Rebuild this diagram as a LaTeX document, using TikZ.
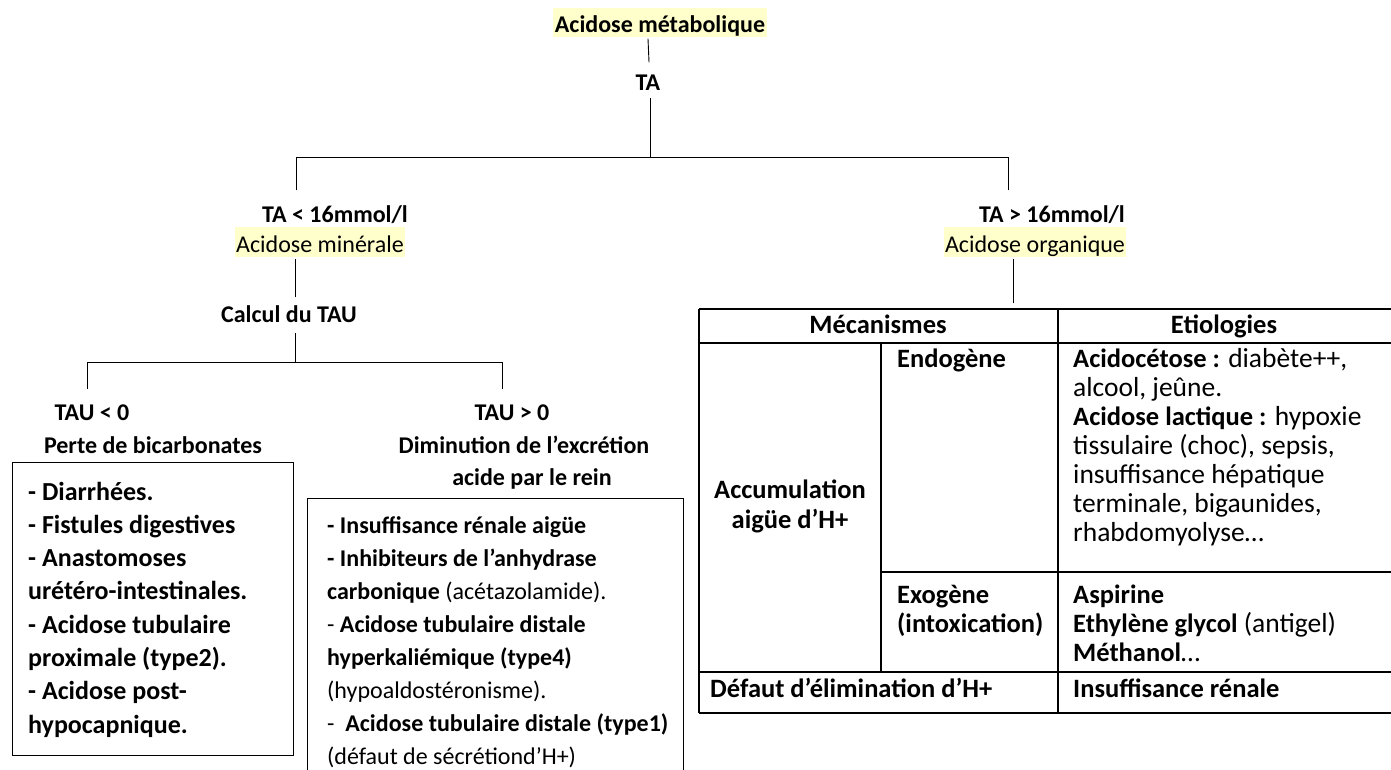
\documentclass[tikz,border=0pt]{standalone}
\usepackage{fontspec}
\setmainfont{Carlito}
\definecolor{hl}{HTML}{FFFFCC}
\tikzset{
  tree/.style={line width=0.9pt, line cap=rect},
  tline/.style={line width=1.5pt},
  hd/.style={font=\fontsize{24}{28}\selectfont\bfseries, inner sep=0pt, anchor=base},
  hlbox/.style={font=\fontsize{24}{28}\selectfont, fill=hl, inner xsep=1.5pt, inner ysep=0pt,
                text height=25pt, text depth=5pt, anchor=base},
  framebox/.style={draw, line width=0.9pt, inner sep=0pt, anchor=north west},
  lline/.style={font=\fontsize{26}{30}\selectfont\bfseries, inner sep=0pt, anchor=base west},
  mline/.style={font=\fontsize{24}{28}\selectfont, inner sep=0pt, anchor=base west},
  tcell/.style={font=\fontsize{27.5}{31}\selectfont, inner sep=0pt, anchor=base west},
  tbold/.style={font=\fontsize{26.5}{31}\selectfont\bfseries, inner sep=0pt, anchor=base west},
  thead/.style={font=\fontsize{26.5}{31}\selectfont\bfseries, inner sep=0pt, anchor=base},
}
\newcommand{\tb}[1]{{\fontsize{26.5}{31}\selectfont\bfseries #1}}
\begin{document}
\begin{tikzpicture}[x=1pt,y=-1pt]
\useasboundingbox (0,0) rectangle (1391,769);
\clip (0,0) rectangle (1391,769);

% ---- decision tree headings
\node[hlbox, font=\fontsize{24}{28}\selectfont\bfseries, text height=24pt] (met) at (660,32) {Acidose métabolique};
\node[hd] (ta) at (648,90) {TA};
\node[hd] (talow) at (335,222) {TA < 16mmol/l};
\node[hlbox] (mine) at (320,252) {Acidose minérale};
\node[hd] (calc) at (289,322) {Calcul du TAU};
\node[hd] (tahigh) at (1052,222) {TA > 16mmol/l};
\node[hlbox] (orga) at (1035,252) {Acidose organique};
\node[hd] (tauneg) at (92,420) {TAU < 0};
\node[hd] (perte) at (153,453) {Perte de bicarbonates};
\node[hd] (taupos) at (512,420) {TAU > 0};
\node[hd] (dimin) at (524,453) {Diminution de l’excrétion};
\node[hd] (acide) at (532,485) {acide par le rein};

% ---- connector ends and junctions
\coordinate (m1) at (648,39);  \coordinate (m2) at (649,62);
\coordinate (t1) at (650,98);  \coordinate (t2) at (650,157);
\coordinate (bl) at (296,157); \coordinate (bl2) at (296,190);
\coordinate (br) at (1008,157);\coordinate (br2) at (1008,190);
\coordinate (n1) at (295,259); \coordinate (n2) at (295,297);
\coordinate (c1) at (295,333); \coordinate (c2) at (295,362);
\coordinate (ul) at (87,362);  \coordinate (ul2) at (87,389);
\coordinate (ur) at (502,362); \coordinate (ur2) at (502,389);
\coordinate (o1) at (1013,259);\coordinate (o2) at (1013,303);

\draw[tree] (m1) -- (m2);
\draw[tree] (t1) -- (t2);
\draw[tree] (bl2) -- (bl) -- (br) -- (br2);
\draw[tree] (n1) -- (n2);
\draw[tree] (c1) -- (c2);
\draw[tree] (ul2) -- (ul) -- (ur) -- (ur2);
\draw[tree] (o1) -- (o2);

% ---- cause boxes
\node[framebox, minimum width=281pt, minimum height=293pt] (lbox) at (12,462) {};
\node[framebox, minimum width=376pt, minimum height=330pt] (mbox) at (307,498) {};

\foreach \t [count=\i] in {
  {- Diarrhées.},
  {- Fistules digestives},
  {- Anastomoses},
  {urétéro-intestinales.},
  {- Acidose tubulaire},
  {proximale (type2).},
  {- Acidose post-},
  {hypocapnique.}}
  \node[lline] (l\i) at (28,{500+33.3*(\i-1)}) {\t};

\foreach \t [count=\i] in {
  {\textbf{- Insuffisance rénale aigüe}},
  {\textbf{- Inhibiteurs de l’anhydrase}},
  {\textbf{carbonique} (acétazolamide).},
  {- \textbf{Acidose tubulaire distale}},
  {\textbf{hyperkaliémique (type4)}},
  {(hypoaldostéronisme).},
  {-\ \ \textbf{Acidose tubulaire distale (type1)}},
  {(défaut de sécrétiond’H+)}}
  \node[mline] (r\i) at (327,{533+33*(\i-1)}) {\t};

% ---- table of organic acidoses
\draw[tline] (699,309) -- (1391,309);
\draw[tline] (699,343) -- (1391,343);
\draw[tline] (881,572) -- (1391,572);
\draw[tline] (699,672) -- (1391,672);
\draw[tline] (699,713) -- (1391,713);
\draw[tline] (699,309) -- (699,713);
\draw[tline] (1058,309) -- (1058,713);
\draw[tline] (881,343) -- (881,672);

\node[thead] (hmec) at (878,333) {Mécanismes};
\node[thead] (heti) at (1224,333) {Etiologies};
\node[thead] (acc1) at (790,498) {Accumulation};
\node[thead] (acc2) at (790,528) {aigüe d’H+};
\node[tbold] (endo) at (897,367) {Endogène};
\node[tbold] (exo1) at (897,603) {Exogène};
\node[tbold] (exo2) at (897,632) {(intoxication)};

\foreach \t [count=\i] in {
  {\tb{Acidocétose :} diabète++,},
  {alcool, jeûne.},
  {\tb{Acidose lactique :} hypoxie},
  {tissulaire (choc), sepsis,},
  {insuffisance hépatique},
  {terminale, bigaunides,},
  {rhabdomyolyse…}}
  \node[tcell] (e\i) at (1073,{367+29*(\i-1)}) {\t};

\node[tcell] (x1) at (1073,603) {\tb{Aspirine}};
\node[tcell] (x2) at (1073,632) {\tb{Ethylène glycol} (antigel)};
\node[tcell] (x3) at (1073,661) {\tb{Méthanol}…};
\node[tbold] (def) at (710,697) {Défaut d’élimination d’H+};
\node[tbold] (ir) at (1073,697) {Insuffisance rénale};
\end{tikzpicture}
\end{document}
